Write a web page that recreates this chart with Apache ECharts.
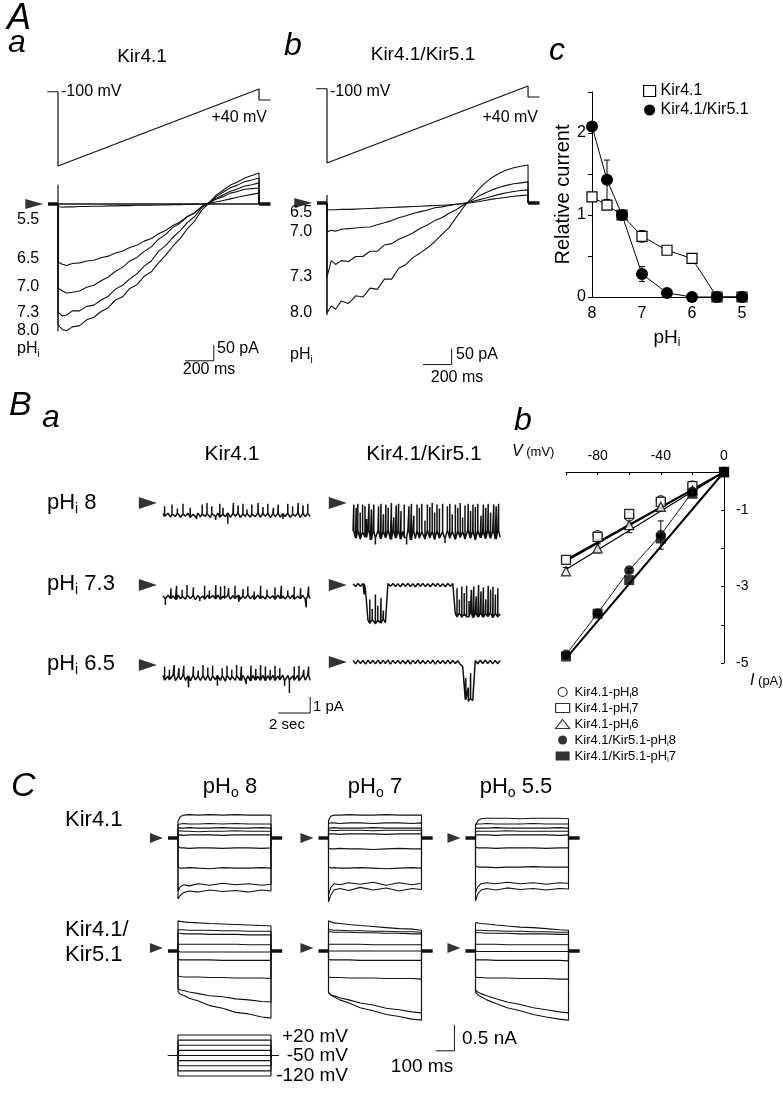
<!DOCTYPE html>
<html><head><meta charset="utf-8">
<script src="https://cdn.jsdelivr.net/npm/echarts@6/dist/echarts.min.js"></script>
<style>html,body{margin:0;padding:0;background:#fff}#c{width:783px;height:1093px}</style>
</head><body><div id="c"></div>
<script>
// ================= DATA =================
// Panel A: ramp protocol (ms, mV)
const A_RAMP_T  = [-75, 0, 0, 1400, 1400, 1480];
const A_RAMP_MV = [35, 35, -100, 40, 20, 20];
// Panel A: whole-cell ramp currents (pA) sampled at A_T (ms)
const A_T = [0,30,60,100,150,200,250,300,350,400,450,500,550,600,650,700,750,800,850,900,950,1000,1050,1100,1150,1200,1250,1300,1350,1400];
const AA_PH_LABELS = ['5.5','6.5','7.0','7.3','8.0'];
const AA_55 = [-8,-10,-9,-9,-8,-8,-7,-7,-6,-6,-5,-5,-4,-4,-4,-3,-3,-2,-2,-1,-1,0,2,6,11,16,21,26,30,34];
const AA_65 = [-181,-188,-192,-186,-184,-178,-176,-168,-163,-153,-147,-136,-129,-116,-108,-93,-83,-67,-56,-39,-28,-9,3,15,23,34,39,46,48,50];
const AA_70 = [-262,-272,-278,-276,-272,-260,-254,-240,-228,-210,-198,-178,-167,-148,-134,-110,-95,-73,-60,-40,-28,-8,4,18,28,40,47,56,60,66];
const AA_73 = [-338,-350,-347,-334,-334,-320,-316,-300,-288,-266,-254,-234,-218,-194,-178,-148,-130,-104,-84,-58,-40,-12,4,23,37,51,59,70,75,81];
const AA_80 = [-378,-392,-396,-384,-380,-362,-354,-336,-324,-300,-290,-264,-252,-226,-212,-184,-160,-132,-108,-78,-54,-20,2,27,43,59,69,81,89,97];
const AA_CAP = [60, -398];
const AB_PH_LABELS = ['6.5','7.0','7.3','8.0'];
const AB_65 = [-22,-21,-21,-20,-20,-19,-18,-17,-16,-15,-14,-13,-12,-11,-10,-9,-8,-7,-6,-4,-2,1,4,8,12,15,18,21,23,25];
const AB_70 = [-91,-85,-88,-82,-80,-78,-76,-75,-68,-62,-55,-46,-40,-33,-27,-22,-15,-12,-8,-4,-1,3,9,15,21,27,32,36,39,41];
const AB_73 = [-231,-180,-192,-180,-183,-167,-167,-151,-151,-131,-127,-113,-104,-93,-79,-69,-55,-46,-32,-21,-6,6,20,31,41,49,55,60,63,66];
const AB_80 = [-344,-322,-332,-306,-314,-290,-294,-266,-270,-238,-238,-204,-192,-170,-156,-140,-121,-98,-77,-45,-14,12,40,62,80,93,103,110,115,119];
const AB_CAP = [25, -350];
const A_SCALE = [200, 50]; // ms, pA

// Panel Ac: relative current vs pHi
const AC_PH = [8, 7.7, 7.4, 7.0, 6.5, 6.0, 5.5, 5.0];
const AC_K41 = [1.22, 1.12, 1.0, 0.74, 0.57, 0.47, 0, 0];
const AC_K41_SE = [0.03, 0.04, 0, 0.07, 0.03, 0.03, 0, 0];
const AC_K45 = [2.08, 1.43, 1.0, 0.28, 0.05, 0, 0, 0];
const AC_K45_SE = [0, 0.24, 0, 0.09, 0.03, 0, 0, 0];

// Panel Ba: single-channel records (pA), 9.2 s each; band = sampled level, spikes = [time s, level pA]
const BA_DUR = 9.2;
const K41_8_BAND = [-0.66,-0.84,-0.64,-0.88,-0.7,-0.83,-0.62,-0.89,-0.68,-0.82,-0.64,-0.9,-0.7,-0.85,-0.63,-0.87,-0.69,-0.83,-0.65,-0.91,-0.67,-0.84,-0.63,-0.88,-0.71,-0.85,-0.62,-0.89,-0.66,-0.83,-0.64,-0.9,-0.69,-0.84,-0.65,-0.88,-0.7,-0.85,-0.62,-0.89,-0.67,-0.83,-0.64,-0.91,-0.69,-0.85,-0.65,-0.88,-0.67,-0.84,-0.64,-0.89,-0.7,-0.83,-0.63,-0.9,-0.66,-0.85,-0.65,-0.84];
const K41_8_SPK = [[0.1,-0.2],[0.56,-0.1],[0.9,-0.35],[1.25,-0.05],[1.7,-0.3],[2.1,-1.0],[2.45,-0.1],[2.75,0],[3.05,-0.2],[3.3,-1.05],[3.55,-0.05],[3.75,-0.3],[4.05,-1.3],[4.4,0],[4.7,-0.15],[5.0,-0.05],[5.25,-0.4],[5.55,-0.1],[5.95,0],[6.25,-0.25],[6.55,-0.05],[6.9,-0.3],[7.2,-0.1],[7.5,-1.0],[7.8,-0.05],[8.1,-0.2],[8.45,0],[8.75,-0.15],[9.05,-0.05]];
const K41_73_BAND = [-0.68,-0.86,-0.63,-0.85,-0.66,-0.9,-0.64,-0.84,-0.7,-0.88,-0.62,-0.85,-0.67,-0.91,-0.65,-0.83,-0.69,-0.89,-0.64,-0.84,-0.66,-0.87,-0.63,-0.9,-0.7,-0.83,-0.65,-0.88,-0.67,-0.85,-0.64,-0.89,-0.69,-0.84,-0.62,-0.86,-0.66,-0.91,-0.64,-0.85,-0.7,-0.88,-0.65,-0.83,-0.67,-0.9,-0.63,-0.85,-0.69,-0.87,-0.66,-0.84,-0.64,-0.89,-0.7,-0.85,-0.65,-0.88,-0.67,-0.83];
const K41_73_SPK = [[0.15,-1.25],[0.5,-0.2],[0.85,-0.05],[1.2,-0.3],[1.5,0],[1.9,-0.15],[2.3,-1.0],[2.6,-0.05],[2.9,-0.35],[3.3,0],[3.6,-0.1],[3.85,-0.05],[4.1,-0.2],[4.5,-0.05],[4.75,-1.05],[5.0,-0.25],[5.3,-0.1],[5.7,-0.4],[6.1,-0.05],[6.5,-0.3],[7.0,-0.15],[7.4,-0.05],[7.8,-0.35],[8.2,-0.1],[8.6,-0.2],[8.95,-1.4],[9.1,-0.1]];
const K41_65_BAND = [-0.66,-0.96,-0.7,-0.93,-0.64,-0.98,-0.72,-0.92,-0.65,-0.96,-0.68,-0.99,-0.64,-0.93,-0.7,-0.97,-0.66,-0.95,-0.63,-0.98,-0.69,-0.92,-0.65,-0.96,-0.67,-1.0,-0.64,-0.94,-0.71,-0.96,-0.66,-0.97,-0.64,-0.93,-0.68,-0.99,-0.65,-0.95,-0.7,-0.96,-0.64,-0.98,-0.67,-0.94,-0.65,-0.97,-0.69,-0.93,-0.64,-0.99,-0.66,-0.95,-0.68,-0.96,-0.65,-0.98,-0.67,-0.94,-0.64,-0.96];
const K41_65_SPK = [[0.1,-0.1],[0.4,-0.3],[0.7,0],[1.0,-0.2],[1.3,-0.05],[1.6,-1.4],[1.9,-0.1],[2.2,-0.35],[2.5,0],[2.8,-0.15],[3.1,-0.05],[3.4,-1.3],[3.7,-0.2],[4.0,-0.05],[4.3,-0.3],[4.6,0],[4.9,-0.1],[5.2,-1.2],[5.5,-0.05],[5.8,-0.25],[6.1,0],[6.4,-0.1],[6.7,-0.3],[7.0,-0.05],[7.3,-0.2],[7.6,-1.3],[7.9,-1.75],[8.2,-0.1],[8.5,-0.05],[8.8,-0.3],[9.1,-0.1]];
const K45_8_BAND = [-1.75,-2.2,-1.7,-2.25,-1.8,-2.15,-1.68,-2.3,-1.76,-2.2,-1.72,-2.24,-1.8,-2.18,-1.7,-2.28,-1.75,-2.2,-1.74,-2.25,-1.78,-2.15,-1.69,-2.3,-1.76,-2.22,-1.72,-2.2,-1.8,-2.26,-1.7,-2.18,-1.76,-2.3,-1.73,-2.2,-1.79,-2.24,-1.68,-2.2,-1.76,-2.28,-1.74,-2.16,-1.78,-2.25,-1.7,-2.2,-1.76,-2.3,-1.72,-2.18,-1.8,-2.22,-1.7,-2.2,-1.76,-2.26,-1.74,-2.15];
const K45_8_SPK = [[0.05,-0.1],[0.2,-0.3],[0.3,-0.05],[0.45,-0.6],[0.6,-0.1],[0.75,-0.2],[0.85,-1.0],[1.0,-0.05],[1.15,-0.4],[1.3,-0.1],[1.4,-2.6],[1.6,-0.2],[1.75,-0.05],[1.9,-0.7],[2.05,-0.1],[2.2,-0.3],[2.4,0],[2.55,-0.9],[2.7,-0.15],[2.85,-0.05],[3.0,-0.5],[3.2,-0.1],[3.35,-2.6],[3.5,-0.2],[3.65,-0.05],[3.8,-0.8],[4.0,-0.1],[4.15,-0.3],[4.3,-0.05],[4.5,-1.1],[4.65,-0.1],[4.8,-0.25],[4.95,0],[5.1,-0.6],[5.25,-0.1],[5.4,-0.35],[5.6,-0.05],[5.75,-2.5],[5.9,-0.2],[6.05,-0.05],[6.2,-0.7],[6.4,-0.1],[6.55,-0.3],[6.7,0],[6.85,-0.9],[7.0,-0.15],[7.2,-0.05],[7.35,-0.5],[7.5,-0.1],[7.65,-0.25],[7.8,-0.05],[8.0,-0.8],[8.15,-0.1],[8.3,-0.3],[8.45,-0.05],[8.6,-0.6],[8.8,-0.1],[8.95,-0.2],[9.1,-0.05]];
const K45_73_BAND = [0.08,-0.1,0.1,-0.08,0.09,-0.3,-2.2,-2.4,-2.15,-2.42,-2.2,-2.38,-2.15,-2.35,0.09,-0.08,0.1,-0.1,0.08,-0.11,0.09,-0.08,0.1,-0.1,0.08,-0.11,0.09,-0.08,0.1,-0.1,0.08,-0.11,0.09,-0.08,0.1,-0.1,0.08,-0.11,0.09,-0.08,0.09,-1.78,-2.0,-1.75,-2.02,-1.8,-1.98,-1.74,-2.03,-1.78,-2.0,-1.76,-2.02,-1.8,-1.97,-1.75,-2.04,-1.78,-1.99,-1.82];
const K45_73_SPK = [[0.7,-0.6],[1.05,-0.9],[1.2,-1.5],[1.4,-0.6],[1.55,-1.3],[1.75,-0.8],[1.9,-1.6],[6.5,-0.2],[6.65,-0.9],[6.8,-0.1],[6.95,-0.5],[7.1,-0.05],[7.25,-1.0],[7.4,-0.3],[7.55,-0.1],[7.7,-0.7],[7.85,0],[8.0,-0.4],[8.15,-0.15],[8.3,-0.9],[8.45,-0.05],[8.6,-0.3],[8.75,-0.1],[8.9,-0.6],[9.05,-0.2]];
const K45_65_BAND = [0.1,-0.12,0.12,-0.1,0.1,-0.13,0.11,-0.1,0.09,-0.12,0.12,-0.11,0.1,-0.09,0.12,-0.13,0.1,-0.1,0.12,-0.12,0.09,-0.11,0.11,-0.13,0.1,-0.09,0.12,-0.11,0.1,-0.12,0.09,-0.1,0.11,-0.13,0.1,-0.09,0.1,-0.12,0.12,-0.11,0.09,-0.1,0.08,-0.15,-0.3,-2.35,-2.45,-2.3,-2.4,0.09,-0.11,0.11,-0.1,0.12,-0.09,0.1,-0.12,0.1,-0.11,0.09];
const K45_65_SPK = [[7.05,-1.0],[7.2,-1.6],[7.35,-0.7]];
const BA_SCALE = [2, 1]; // s, pA

// Panel Bb: single-channel I-V
const BB_V = [-100, -80, -60, -40, -20, 0];
const BB_K41_8 = [-2.30, -1.65, -1.17, -0.74, -0.35, 0];
const BB_K41_7 = [-2.30, -1.70, -1.10, -0.78, -0.37, 0];
const BB_K41_6 = [-2.60, -2.00, -1.39, -0.91, -0.48, 0];
const BB_K45_8 = [-4.78, -3.70, -2.57, -1.65, -0.52, 0];
const BB_K45_7 = [-4.83, -3.71, -2.83, -1.74, -0.57, 0];
const BB_K41_6_SE = [0.10, 0.12, 0.20, 0.05, 0, 0];
const BB_K45_8_SE = [0.05, 0.05, 0.05, 0.37, 0, 0];
const BB_FIT_AT_M100 = [-2.33, -2.30, -2.55, -4.88]; // fitted lines for K41-8, K41-7, K41-6, K45-7

// Panel C: step protocol (ms, mV) and currents (nA) sampled at C_T
const C_T = [0, 12, 30, 60, 110, 170, 240, 310, 380, 450, 500];
const PROT_MV = [20, 2.5, -15, -32.5, -50, -67.5, -85, -102.5, -120];
const PROT_HOLD = -50;
const C_TITLES = ['8', '7', '5.5'];
const C_K41_8 = [
 [0.32,0.41,0.44,0.45,0.44,0.45,0.44,0.45,0.44,0.44,0.44],
 [0.26,0.27,0.28,0.27,0.27,0.28,0.27,0.28,0.27,0.27,0.27],
 [0.20,0.19,0.19,0.20,0.19,0.19,0.20,0.19,0.19,0.20,0.19],
 [0.13,0.14,0.13,0.13,0.12,0.13,0.13,0.14,0.13,0.13,0.13],
 [0.06,0.06,0.05,0.06,0.06,0.06,0.05,0.06,0.06,0.06,0.06],
 [-0.16,-0.19,-0.19,-0.20,-0.19,-0.19,-0.20,-0.19,-0.19,-0.20,-0.19],
 [-0.55,-0.58,-0.58,-0.57,-0.58,-0.59,-0.57,-0.58,-0.58,-0.57,-0.58],
 [-1.02,-0.94,-0.90,-0.92,-0.88,-0.91,-0.87,-0.90,-0.88,-0.91,-0.89],
 [-1.17,-1.10,-1.05,-1.02,-1.04,-1.00,-1.03,-1.01,-1.04,-1.00,-1.02]];
const C_K41_7 = [
 [0.34,0.42,0.44,0.44,0.45,0.44,0.44,0.45,0.44,0.44,0.44],
 [0.28,0.29,0.29,0.28,0.29,0.29,0.28,0.29,0.29,0.28,0.29],
 [0.19,0.19,0.20,0.19,0.19,0.19,0.20,0.19,0.19,0.19,0.19],
 [0.15,0.15,0.14,0.15,0.15,0.15,0.14,0.15,0.15,0.15,0.15],
 [0.08,0.08,0.08,0.07,0.08,0.08,0.08,0.07,0.08,0.08,0.08],
 [-0.19,-0.21,-0.21,-0.20,-0.21,-0.21,-0.22,-0.21,-0.20,-0.21,-0.21],
 [-0.55,-0.58,-0.57,-0.58,-0.58,-0.57,-0.58,-0.59,-0.58,-0.57,-0.58],
 [-1.10,-0.95,-0.88,-0.90,-0.86,-0.89,-0.85,-0.91,-0.86,-0.90,-0.87],
 [-1.23,-1.10,-1.00,-0.97,-1.01,-0.95,-1.00,-0.96,-1.02,-0.97,-0.99]];
const C_K41_55 = [
 [0.24,0.33,0.37,0.38,0.38,0.38,0.37,0.38,0.38,0.38,0.37],
 [0.27,0.27,0.27,0.28,0.27,0.27,0.27,0.28,0.27,0.27,0.27],
 [0.19,0.19,0.19,0.19,0.20,0.19,0.19,0.19,0.19,0.20,0.19],
 [0.13,0.13,0.13,0.13,0.13,0.14,0.13,0.13,0.13,0.13,0.13],
 [0.06,0.06,0.06,0.06,0.05,0.06,0.06,0.06,0.06,0.05,0.06],
 [-0.17,-0.19,-0.19,-0.19,-0.20,-0.19,-0.19,-0.19,-0.20,-0.19,-0.19],
 [-0.53,-0.56,-0.56,-0.56,-0.57,-0.56,-0.56,-0.55,-0.56,-0.56,-0.56],
 [-1.05,-0.94,-0.88,-0.86,-0.88,-0.85,-0.88,-0.86,-0.89,-0.86,-0.87],
 [-1.21,-1.08,-1.00,-0.97,-1.00,-0.96,-0.99,-0.97,-1.00,-0.97,-0.98]];
const C_K45_8 = [
 [0.58,0.57,0.56,0.55,0.54,0.53,0.52,0.51,0.50,0.49,0.48],
 [0.41,0.41,0.41,0.40,0.40,0.40,0.39,0.39,0.38,0.38,0.38],
 [0.34,0.34,0.33,0.33,0.33,0.32,0.32,0.32,0.31,0.31,0.31],
 [0.13,0.13,0.13,0.13,0.13,0.13,0.13,0.13,0.12,0.12,0.12],
 [-0.02,-0.02,-0.02,-0.02,-0.02,-0.02,-0.02,-0.02,-0.02,-0.02,-0.02],
 [-0.16,-0.17,-0.17,-0.17,-0.17,-0.17,-0.18,-0.18,-0.18,-0.18,-0.18],
 [-0.48,-0.49,-0.50,-0.50,-0.50,-0.51,-0.51,-0.52,-0.52,-0.52,-0.53],
 [-0.72,-0.75,-0.76,-0.79,-0.82,-0.86,-0.88,-0.92,-0.94,-0.97,-0.98],
 [-0.78,-0.83,-0.85,-0.91,-0.96,-1.05,-1.10,-1.18,-1.21,-1.27,-1.29]];
const C_K45_7 = [
 [0.58,0.56,0.54,0.53,0.51,0.49,0.47,0.45,0.43,0.42,0.40],
 [0.41,0.41,0.40,0.40,0.39,0.39,0.38,0.38,0.37,0.37,0.36],
 [0.37,0.37,0.36,0.36,0.36,0.35,0.35,0.34,0.34,0.33,0.33],
 [0.13,0.13,0.13,0.13,0.13,0.13,0.12,0.12,0.12,0.12,0.12],
 [0,0,0,0,0,0,0,0,0,0,0],
 [-0.16,-0.17,-0.17,-0.17,-0.17,-0.18,-0.18,-0.18,-0.18,-0.18,-0.18],
 [-0.50,-0.51,-0.51,-0.51,-0.52,-0.52,-0.52,-0.53,-0.53,-0.53,-0.54],
 [-0.80,-0.84,-0.86,-0.90,-0.94,-1.00,-1.04,-1.10,-1.13,-1.17,-1.19],
 [-0.79,-0.85,-0.88,-0.94,-1.00,-1.09,-1.15,-1.22,-1.26,-1.31,-1.33]];
const C_K45_55 = [
 [0.54,0.54,0.53,0.52,0.50,0.48,0.46,0.45,0.43,0.41,0.40],
 [0.40,0.40,0.40,0.39,0.39,0.38,0.38,0.37,0.37,0.36,0.36],
 [0.35,0.35,0.35,0.34,0.34,0.34,0.33,0.33,0.33,0.32,0.32],
 [0.13,0.13,0.13,0.13,0.13,0.12,0.12,0.12,0.12,0.12,0.12],
 [-0.01,-0.01,-0.01,-0.01,-0.01,-0.01,-0.01,-0.01,-0.01,-0.01,-0.01],
 [-0.17,-0.17,-0.17,-0.17,-0.18,-0.18,-0.18,-0.18,-0.18,-0.18,-0.19],
 [-0.50,-0.51,-0.51,-0.52,-0.52,-0.52,-0.53,-0.53,-0.53,-0.54,-0.54],
 [-0.75,-0.79,-0.82,-0.86,-0.92,-0.98,-1.03,-1.09,-1.13,-1.17,-1.19],
 [-0.79,-0.84,-0.88,-0.94,-1.01,-1.09,-1.15,-1.22,-1.27,-1.31,-1.33]];
const C_SCALE = [100, 0.5]; // ms, nA

// ================= BUILD =================
const FONT = '"Liberation Sans", Arial, Helvetica, sans-serif';
const NARROW = '"Liberation Sans Narrow", "Liberation Sans", Arial, sans-serif';
const INK = '#111';
const grids = [], xAxes = [], yAxes = [], series = [], graphics = [];

function gx(zeroPx, k, min, max) { return { left: zeroPx + min * k, width: (max - min) * k }; }
function gy(zeroPx, k, min, max) { return { top: zeroPx - max * k, height: (max - min) * k }; }
function addHiddenGrid(xl, yl, xmin, xmax, ymin, ymax) {
  const i = grids.length;
  grids.push({ left: xl.left, width: xl.width, top: yl.top, height: yl.height, containLabel: false, outerBoundsMode: 'none' });
  xAxes.push({ type: 'value', gridIndex: i, min: xmin, max: xmax, show: false });
  yAxes.push({ type: 'value', gridIndex: i, min: ymin, max: ymax, show: false });
  return i;
}
function line(gi, data, width, extra) {
  series.push(Object.assign({ type: 'line', xAxisIndex: gi, yAxisIndex: gi, data: data, symbol: 'none',
    showSymbol: false, silent: true, animation: false, clip: false,
    lineStyle: { color: INK, width: width || 1 }, z: 2 }, extra || {}));
}
function arrow(gi, x, size, y) {
  series.push({ type: 'scatter', xAxisIndex: gi, yAxisIndex: gi, data: [[x, y || 0]], symbol: 'triangle',
    symbolRotate: -90, symbolSize: size, itemStyle: { color: '#000' }, silent: true, animation: false, z: 3 });
}
function subRich(size, family, fillKey) {
  const c = fillKey || 'fill';
  const m = { fontSize: size, fontFamily: family || FONT }; m[c] = '#000';
  const s = { fontSize: Math.round(size * 0.62), fontFamily: family || FONT, lineHeight: 4, padding: [Math.round(size * 0.6), 0, 0, 0] }; s[c] = '#000';
  return { m: m, s: s };
}
function T(x, y, text, size, o) {
  o = o || {};
  const st = { text: text, fontSize: size, fontFamily: o.family || FONT, fontStyle: o.italic ? 'italic' : 'normal',
    fill: '#000', align: o.align || 'left', verticalAlign: 'middle' };
  if (o.rich) st.rich = o.rich;
  graphics.push({ type: 'text', x: x, y: y, style: st, silent: true, z: 10 });
}
function errSeries(xi, rows, cap) {
  series.push({ type: 'custom', xAxisIndex: xi, yAxisIndex: xi, silent: true, animation: false, z: 1,
    renderItem: function (params, api) {
      const x = api.value(0), lo = api.value(1), hi = api.value(2);
      const a = api.coord([x, lo]), b = api.coord([x, hi]);
      const s = { stroke: '#000', lineWidth: 1 };
      return { type: 'group', children: [
        { type: 'line', shape: { x1: a[0], y1: a[1], x2: b[0], y2: b[1] }, style: s },
        { type: 'line', shape: { x1: a[0] - cap, y1: a[1], x2: a[0] + cap, y2: a[1] }, style: s },
        { type: 'line', shape: { x1: b[0] - cap, y1: b[1], x2: b[0] + cap, y2: b[1] }, style: s }] };
    }, data: rows });
}
// single-channel record: sampled band plus brief spikes drawn as vertical excursions
function channelTrace(band, spikes, dur) {
  const dt = dur / (band.length - 1);
  const pts = band.map((v, i) => ({ t: i * dt, o: 0, v: v }));
  spikes.forEach(s => {
    const base = band[Math.min(band.length - 1, Math.round(s[0] / dt))];
    pts.push({ t: s[0], o: 1, v: base }, { t: s[0], o: 2, v: s[1] }, { t: s[0], o: 3, v: base });
  });
  pts.sort((a, b) => (a.t - b.t) || (a.o - b.o));
  return pts.map(p => [p.t, p.v]);
}

// ---------- Panel A a / b ----------
const KT = 0.1436, KV = 0.55, KPA = 0.32;
function buildA(t0px, rampZero, curZero, traces, cap, bar, withZeroLine) {
  const xl = gx(t0px, KT, -300, 1600);
  const gr = addHiddenGrid(xl, gy(rampZero, KV, -110, 50), -300, 1600, -110, 50);
  line(gr, A_RAMP_T.map((t, i) => [t, A_RAMP_MV[i]]), 1.2);
  const gc = addHiddenGrid(xl, gy(curZero, KPA, -540, 200), -300, 1600, -540, 200);
  if (withZeroLine) line(gc, [[0, 0], [A_T[A_T.length - 1], 0]], 1.4);
  line(gc, [[-70, 0], [0, 0]], 3.5);
  line(gc, [[1400, 0], [1480, 0]], 3.5);
  line(gc, [[0, cap[0]], [0, cap[1]]], 1.2);
  traces.forEach(arr => {
    const d = [[0, 0]];
    A_T.forEach((t, i) => d.push([t, arr[i]]));
    d.push([A_T[A_T.length - 1], 0]);
    line(gc, d, 1.1);
  });
  arrow(gc, -165, [10, 18]);
  line(gc, [[bar[0], bar[1]], [bar[0] + A_SCALE[0], bar[1]], [bar[0] + A_SCALE[0], bar[1] + A_SCALE[1]]], 1);
}
buildA(58, 111, 204, [AA_55, AA_65, AA_70, AA_73, AA_80], AA_CAP, [885, -490], true);
buildA(327, 108, 203, [AB_65, AB_70, AB_73, AB_80], AB_CAP, [668, -505], false);

// ---------- Panel A c ----------
const gAc = grids.length;
grids.push({ left: 592, width: 150, top: 92, height: 205, containLabel: false, outerBoundsMode: 'none' });
xAxes.push({ type: 'value', gridIndex: gAc, min: 5, max: 8, interval: 1, inverse: true,
  axisLine: { show: true, onZero: false, lineStyle: { color: '#000', width: 1 } }, axisTick: { show: false },
  axisLabel: { fontSize: 16, color: '#000', fontFamily: FONT, margin: 9 }, splitLine: { show: false },
  name: '{m|pH}{s|i}', nameLocation: 'middle', nameGap: 31,
  nameTextStyle: { rich: subRich(19, FONT, 'color') } });
yAxes.push({ type: 'value', gridIndex: gAc, min: 0, max: 2.5, interval: 0.5,
  axisLine: { show: true, onZero: false, lineStyle: { color: '#000', width: 1 } },
  axisTick: { show: true, inside: false, length: 4, lineStyle: { color: '#000' } },
  axisLabel: { fontSize: 16, color: '#000', fontFamily: FONT, margin: 6, formatter: v => (Math.abs(v - Math.round(v)) < 1e-6 ? String(Math.round(v)) : '') },
  splitLine: { show: false },
  name: 'Relative current', nameLocation: 'middle', nameGap: 19, nameRotate: 90,
  nameTextStyle: { fontSize: 20, color: '#000', fontFamily: FONT } });
errSeries(gAc, AC_PH.map((p, i) => [p, AC_K41[i] - AC_K41_SE[i], AC_K41[i] + AC_K41_SE[i]]).filter(r => r[2] > r[1]), 3);
errSeries(gAc, AC_PH.map((p, i) => [p, AC_K45[i] - AC_K45_SE[i], AC_K45[i] + AC_K45_SE[i]]).filter(r => r[2] > r[1]), 3);
series.push({ type: 'line', name: 'Kir4.1', xAxisIndex: gAc, yAxisIndex: gAc, data: AC_PH.map((p, i) => [p, AC_K41[i]]),
  symbol: 'rect', symbolSize: 10, showAllSymbol: true, animation: false, z: 2,
  itemStyle: { color: '#fff', borderColor: '#000', borderWidth: 1.2 }, lineStyle: { color: '#000', width: 1 } });
series.push({ type: 'line', name: 'Kir4.1/Kir5.1', xAxisIndex: gAc, yAxisIndex: gAc, data: AC_PH.map((p, i) => [p, AC_K45[i]]),
  symbol: 'circle', symbolSize: 12, showAllSymbol: true, animation: false, z: 3,
  itemStyle: { color: '#000' }, lineStyle: { color: '#000', width: 1 } });

// ---------- Panel B a ----------
const BA_COLS = [163, 353];
const BA_ROWS = [[503, 585, 665], [503, 585, 662]];
const BA_TRACES = [
  [[K41_8_BAND, K41_8_SPK], [K41_73_BAND, K41_73_SPK], [K41_65_BAND, K41_65_SPK]],
  [[K45_8_BAND, K45_8_SPK], [K45_73_BAND, K45_73_SPK], [K45_65_BAND, K45_65_SPK]]];
for (let c = 0; c < 2; c++) {
  for (let r = 0; r < 3; r++) {
    const g = addHiddenGrid(gx(BA_COLS[c], 16, -1.5, 9.6), gy(BA_ROWS[c][r], 16, -3.3, 0.5), -1.5, 9.6, -3.3, 0.5);
    const tr = BA_TRACES[c][r];
    line(g, channelTrace(tr[0], tr[1], BA_DUR), 1.5);
    arrow(g, -0.95, [12, 18]);
    if (c === 0 && r === 2) {
      line(g, [[BA_DUR - BA_SCALE[0], -3], [BA_DUR, -3], [BA_DUR, -3 + BA_SCALE[1]]], 1);
    }
  }
}

// ---------- Panel B b ----------
const gBb = grids.length;
grids.push({ left: 566, width: 158, top: 472, height: 191, containLabel: false, outerBoundsMode: 'none' });
xAxes.push({ type: 'value', gridIndex: gBb, min: -100, max: 0, interval: 20, position: 'top',
  axisLine: { show: true, onZero: false, lineStyle: { color: '#000', width: 1 } },
  axisTick: { show: true, inside: true, length: 3, lineStyle: { color: '#000' } },
  axisLabel: { fontSize: 14, color: '#000', fontFamily: FONT, margin: 9, formatter: v => ([-80, -40, 0].indexOf(v) >= 0 ? String(v) : '') },
  splitLine: { show: false } });
yAxes.push({ type: 'value', gridIndex: gBb, min: -5, max: 0, interval: 1, position: 'right',
  axisLine: { show: true, onZero: false, lineStyle: { color: '#000', width: 1 } },
  axisTick: { show: true, inside: true, length: 3, lineStyle: { color: '#000' } },
  axisLabel: { fontSize: 14, color: '#000', fontFamily: FONT, margin: 12, formatter: v => ([-1, -3, -5].indexOf(v) >= 0 ? String(v) : '') },
  splitLine: { show: false } });
const fitSets = [[BB_FIT_AT_M100[0], 1.8], [BB_FIT_AT_M100[1], 1.8], [BB_FIT_AT_M100[2], 1.2], [BB_FIT_AT_M100[3], 2]];
fitSets.forEach(f => line(gBb, [[-100, f[0]], [0, 0]], f[1], { lineStyle: { color: '#000', width: f[1] } }));
line(gBb, BB_V.map((v, i) => [v, BB_K45_8[i]]), 0.9, { lineStyle: { color: '#000', width: 0.9 } });
errSeries(gBb, BB_V.map((v, i) => [v, BB_K41_6[i] - BB_K41_6_SE[i], BB_K41_6[i] + BB_K41_6_SE[i]]).filter(r => r[2] > r[1]), 3);
errSeries(gBb, BB_V.map((v, i) => [v, BB_K45_8[i] - BB_K45_8_SE[i], BB_K45_8[i] + BB_K45_8_SE[i]]).filter(r => r[2] > r[1]), 3);
const OPEN = { color: '#fff', borderColor: '#000', borderWidth: 1.3 };
const FILL = { color: '#000' };
const BB_SETS = [
  ['K41-8', BB_K41_8, 'circle', 9, OPEN], ['K41-7', BB_K41_7, 'rect', 9, OPEN], ['K41-6', BB_K41_6, 'triangle', 9, OPEN],
  ['K45-8', BB_K45_8, 'circle', 10, FILL], ['K45-7', BB_K45_7, 'rect', 10, FILL]];
BB_SETS.forEach(s => series.push({ type: 'scatter', name: s[0], xAxisIndex: gBb, yAxisIndex: gBb,
  data: BB_V.map((v, i) => [v, s[1][i]]), symbol: s[2], symbolSize: s[3], itemStyle: s[4], animation: false, z: 3 }));
const BB_LABEL = {
  'K41-8': '{m|Kir4.1-pH}{s|i}{m|8}', 'K41-7': '{m|Kir4.1-pH}{s|i}{m|7}', 'K41-6': '{m|Kir4.1-pH}{s|i}{m|6}',
  'K45-8': '{m|Kir4.1/Kir5.1-pH}{s|i}{m|8}', 'K45-7': '{m|Kir4.1/Kir5.1-pH}{s|i}{m|7}' };

// ---------- Panel C ----------
const KC = 0.186, KNA = 52;
const C_COLS = [178, 328.5, 475.5];
const C_ROWS = [[838, -1.4, 0.6], [951, -2.0, 0.7]];
const C_DATA = [[C_K41_8, C_K41_7, C_K41_55], [C_K45_8, C_K45_7, C_K45_55]];
const STEP_END = C_T[C_T.length - 1];
for (let r = 0; r < 2; r++) {
  for (let c = 0; c < 3; c++) {
    const g = addHiddenGrid(gx(C_COLS[c], KC, -150, 700), gy(C_ROWS[r][0], KNA, C_ROWS[r][1], C_ROWS[r][2]), -150, 700, C_ROWS[r][1], C_ROWS[r][2]);
    C_DATA[r][c].forEach(tr => {
      const d = [[0, 0]];
      C_T.forEach((t, i) => d.push([t, tr[i]]));
      d.push([STEP_END, 0]);
      line(g, d, 1.1);
    });
    line(g, [[-54, 0], [0, 0]], 3.5);
    line(g, [[STEP_END, 0], [STEP_END + 60, 0]], 3.5);
    arrow(g, -116, [10, 13], r === 1 ? 0.06 : 0);
    if (r === 1 && c === 1) {
      line(g, [[STEP_END + 77, -1.92], [STEP_END + 77 + C_SCALE[0], -1.92], [STEP_END + 77 + C_SCALE[0], -1.92 + C_SCALE[1]]], 1);
    }
  }
}
// step protocol
const gP = addHiddenGrid(gx(178, KC, -150, 700), gy(1040.9, 0.2929, -130, 30), -150, 700, -130, 30);
PROT_MV.forEach(v => line(gP, [[-54, PROT_HOLD], [0, PROT_HOLD], [0, v], [STEP_END, v], [STEP_END, PROT_HOLD], [STEP_END + 40, PROT_HOLD]], 1.1));

// ---------- Texts ----------
// A
T(7, 19, 'A', 36, { italic: true });
T(8, 43, 'a', 32, { italic: true });
T(142, 57, 'Kir4.1', 19, { align: 'center' });
T(284, 46, 'b', 32, { italic: true });
T(423, 55, 'Kir4.1/Kir5.1', 19, { align: 'center' });
T(549, 51, 'c', 32, { italic: true });
T(61, 92, '-100 mV', 16); T(267, 118, '+40 mV', 16, { align: 'right' });
T(330, 92, '-100 mV', 16); T(538, 118, '+40 mV', 16, { align: 'right' });
const AA_LABEL_Y = [220, 259, 287, 313, 331];
AA_PH_LABELS.forEach((s, i) => T(17, AA_LABEL_Y[i], s, 16));
T(17, 349, '{m|pH}{s|i}', 16, { rich: subRich(16) });
const AB_LABEL_Y = [213, 232, 277, 313];
AB_PH_LABELS.forEach((s, i) => T(290, AB_LABEL_Y[i], s, 16));
T(290, 355, '{m|pH}{s|i}', 16, { rich: subRich(16) });
T(217, 349, '50 pA', 16); T(209, 370, '200 ms', 16, { align: 'center' });
T(456, 355, '50 pA', 16); T(457, 378, '200 ms', 16, { align: 'center' });
// B
T(9, 406, 'B', 34, { italic: true });
T(42, 418, 'a', 32, { italic: true });
T(514, 421, 'b', 32, { italic: true });
T(232, 454, 'Kir4.1', 21, { align: 'center' });
T(424, 454, 'Kir4.1/Kir5.1', 21, { align: 'center' });
const BA_PH = ['8', '7.3', '6.5'];
const BA_PH_Y = [503, 584, 664];
BA_PH.forEach((s, i) => T(47, BA_PH_Y[i], '{m|pH}{s|i}{m| ' + s + '}', 22, { rich: subRich(22) }));
T(313, 707, '1 pA', 15); T(287, 725, '2 sec', 15, { align: 'center' });
T(512, 452, '{v|V}{u| (mV)}', 15, { rich: { v: { fontSize: 16, fontStyle: 'italic', fontFamily: FONT, fill: '#000' }, u: { fontSize: 13, fontFamily: FONT, fill: '#000' } } });
T(750, 681, '{v|I}{u| (pA)}', 15, { rich: { v: { fontSize: 16, fontStyle: 'italic', fontFamily: FONT, fill: '#000' }, u: { fontSize: 13, fontFamily: FONT, fill: '#000' } } });
// C
T(11, 787, 'C', 34, { italic: true });
const C_TITLE_X = [230, 375, 516];
C_TITLES.forEach((s, i) => T(C_TITLE_X[i], 787, '{m|pH}{s|o}{m| ' + s + '}', 22, { align: 'center', rich: subRich(22) }));
T(65, 820, 'Kir4.1', 22);
T(65, 930, 'Kir4.1/', 22);
T(65, 955, 'Kir5.1', 22);
T(348, 1037, '+20 mV', 19, { align: 'right', family: NARROW });
T(348, 1056, '-50 mV', 19, { align: 'right', family: NARROW });
T(348, 1076, '-120 mV', 19, { align: 'right', family: NARROW });
T(462, 1039, '0.5 nA', 19, { family: NARROW });
T(422, 1067, '100 ms', 19, { align: 'center', family: NARROW });

// ---------- Legends ----------
const legends = [
  { left: 638, top: 78, orient: 'vertical', itemGap: 3, itemWidth: 12, itemHeight: 11, selectedMode: false,
    textStyle: { fontSize: 16, color: '#000', fontFamily: FONT },
    data: [{ name: 'Kir4.1', icon: 'rect', itemStyle: { color: '#fff', borderColor: '#000', borderWidth: 1.2 } },
           { name: 'Kir4.1/Kir5.1', icon: 'circle', itemStyle: { color: '#000', borderWidth: 0 } }] },
  { left: 550, top: 679, orient: 'vertical', itemGap: 0, itemWidth: 14, itemHeight: 9, selectedMode: false,
    textStyle: { fontSize: 13, color: '#000', fontFamily: FONT, rich: {
      m: { fontSize: 13, lineHeight: 11, color: '#000', fontFamily: FONT },
      s: { fontSize: 8, lineHeight: 4, padding: [8, 0, 0, 0], color: '#000', fontFamily: FONT } } },
    formatter: n => BB_LABEL[n],
    data: BB_SETS.map(s => ({ name: s[0], icon: s[2], itemStyle: s[4] === OPEN ? { color: '#fff', borderColor: '#000', borderWidth: 1.2 } : { color: '#000', borderWidth: 0 } })) }
];

const chart = echarts.init(document.getElementById('c'), null, { renderer: 'canvas' });
chart.setOption({
  animation: false,
  backgroundColor: '#fff',
  textStyle: { fontFamily: FONT, color: '#000' },
  grid: grids, xAxis: xAxes, yAxis: yAxes, series: series,
  legend: legends,
  graphic: graphics
});
</script></body></html>
